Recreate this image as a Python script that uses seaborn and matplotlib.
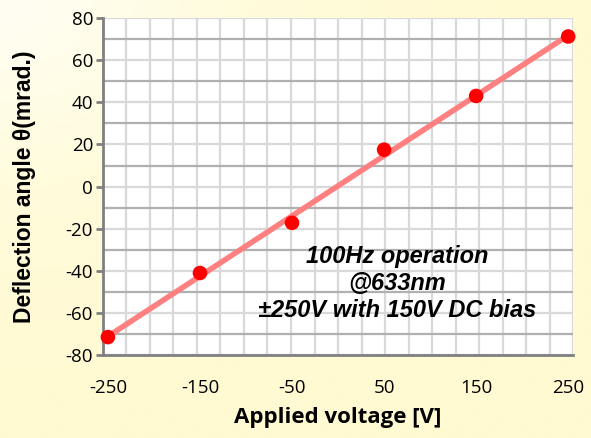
import numpy as np
import pandas as pd
import seaborn as sns
import matplotlib.pyplot as plt
from matplotlib.colors import LinearSegmentedColormap

# measured points
voltage = [-250, -150, -50, 50, 150, 250]
angle = [-71.4, -41.0, -17.2, 17.5, 43.0, 71.2]
x_ticks = [-250, -150, -50, 50, 150, 250]
y_ticks = [-80, -60, -40, -20, 0, 20, 40, 60, 80]
note = "100Hz operation\n@633nm\n\u00b1250V with 150V DC bias"

df = pd.DataFrame({"voltage": voltage, "angle": angle})

sns.set_style("white")
plt.rcParams["font.family"] = ["Open Sans", "DejaVu Sans"]
plt.rcParams["axes.unicode_minus"] = False
plt.rcParams["text.color"] = "black"
plt.rcParams["axes.labelcolor"] = "black"
plt.rcParams["xtick.color"] = "black"
plt.rcParams["ytick.color"] = "black"

fig = plt.figure(figsize=(5.91, 4.38), dpi=100)

# pale yellow background, a bit lighter towards the top left
bg = fig.add_axes([0, 0, 1, 1], zorder=-10)
yy, xx = np.mgrid[0:1:200j, 0:1:200j]
r = np.clip(np.hypot(xx, yy) / 0.9, 0, 1)
cmap = LinearSegmentedColormap.from_list("bgc", ["#fffef4", "#fffbda", "#fffad2"])
bg.imshow(r, cmap=cmap, aspect="auto", extent=[0, 1, 0, 1], vmin=0, vmax=1)
bg.axis("off")

ax = fig.add_axes([0.174, 0.189, 0.796, 0.770])
ax.set_facecolor("white")
xmin, xmax = -255.5, 255.5
ax.set_xlim(xmin, xmax)
ax.set_ylim(-80, 80)

# grid
for gx in np.linspace(xmin, xmax, 21):
    ax.axvline(gx, color="#d9d9d9", lw=1.6, zorder=0)
for gy in np.arange(-80, 81, 10):
    c = "#b0b0b0" if gy % 20 else "#d9d9d9"
    ax.axhline(gy, color=c, lw=1.6, zorder=0)

sns.regplot(data=df, x="voltage", y="angle", ax=ax, ci=None, scatter=False,
            truncate=True, line_kws={"color": "#ff8080", "lw": 4, "solid_capstyle": "butt"})
sns.scatterplot(data=df, x="voltage", y="angle", ax=ax, color="#ff0000", s=110,
                edgecolor="none", zorder=5, clip_on=False)

for s in ["top", "right"]:
    ax.spines[s].set_visible(False)
for s in ["left", "bottom"]:
    ax.spines[s].set_color("#808080")
    ax.spines[s].set_linewidth(2)

ax.set_xticks(x_ticks)
ax.set_yticks(y_ticks)
ax.tick_params(axis="y", length=5, width=2, color="#808080", left=True, labelsize=13.5, pad=2)
ax.tick_params(axis="x", length=0, labelsize=13.5, pad=17)

ax.set_xlabel("Applied voltage [V]", fontsize=16, fontweight="bold", labelpad=7)
ax.set_ylabel("Deflection angle \u03b8(mrad.)", fontsize=16.5, fontweight="bold",
              family=["Liberation Sans", "DejaVu Sans"], labelpad=21)

ax.text(64, -46, note, ha="center", va="center", fontsize=17, fontweight="bold",
        style="italic", family=["Liberation Sans", "DejaVu Sans"], linespacing=1.2, zorder=6)

fig.savefig("out.png", dpi=100)
